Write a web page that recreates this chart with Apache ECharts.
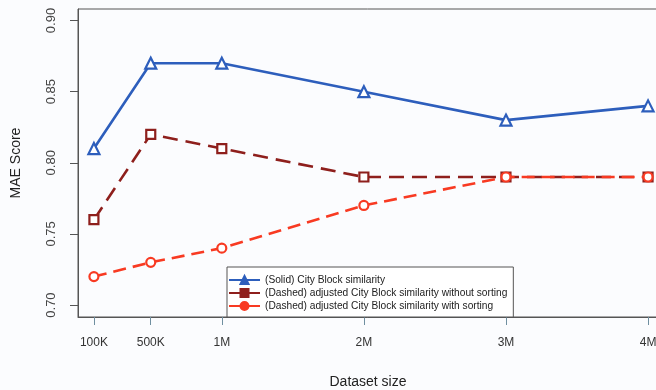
<!DOCTYPE html>
<html><head><meta charset="utf-8">
<script src="https://cdn.jsdelivr.net/npm/echarts@6/dist/echarts.min.js"></script>
<style>html,body{margin:0;padding:0;background:#fbfcfe}#c{width:656px;height:390px}</style>
</head><body><div id="c"></div>
<script>
const sizes = [100000, 500000, 1000000, 2000000, 3000000, 4000000];
const tickLabels = ['100K', '500K', '1M', '2M', '3M', '4M'];
const yTicks = [0.70, 0.75, 0.80, 0.85, 0.90];
const solidCity = [0.81, 0.87, 0.87, 0.85, 0.83, 0.84];
const adjNoSort = [0.76, 0.82, 0.81, 0.79, 0.79, 0.79];
const adjSort = [0.72, 0.73, 0.74, 0.77, 0.79, 0.79];
const names = ['(Solid) City Block similarity',
  '(Dashed) adjusted City Block similarity without sorting',
  '(Dashed) adjusted City Block similarity with sorting'];
const cBlue = '#2d5ebc', cDark = '#8e1f1c', cRed = '#f83a22';
const font = 'Liberation Sans, Arial, sans-serif';
const chart = echarts.init(document.getElementById('c'));
const lbl = {};
sizes.forEach((s, i) => lbl[s] = tickLabels[i]);
function ser(name, data, color, symbol, size, dash, z) {
  return {
    name, type: 'line', z,
    data: sizes.map((s, i) => [s, data[i]]),
    symbol, symbolSize: size, showSymbol: true,
    lineStyle: { color, width: 2.6, type: dash },
    itemStyle: { color: '#ffffff', borderColor: color, borderWidth: 2.2 },
    emphasis: { disabled: true }, animation: false
  };
}
chart.setOption({
  backgroundColor: '#fbfcfe',
  animation: false,
  grid: { left: 78, right: -2, top: 9, bottom: 73, show: true, borderColor: '#555', borderWidth: 1,
    backgroundColor: 'transparent', containLabel: false, outerBoundsMode: 'none' },
  xAxis: {
    type: 'value', min: -12000, max: 4070000,
    name: 'Dataset size', nameLocation: 'middle', nameGap: 58,
    nameTextStyle: { fontFamily: font, fontSize: 14, color: '#222' },
    splitLine: { show: false },
    axisLine: { show: true, onZero: false, lineStyle: { color: '#555' } },
    axisTick: { show: true, length: 8, customValues: sizes, lineStyle: { color: '#6f8fa0' } },
    axisLabel: { customValues: sizes, formatter: v => lbl[v] || '', fontFamily: font, fontSize: 12, color: '#333', margin: 20, hideOverlap: false }
  },
  yAxis: {
    type: 'value', min: 0.6916, max: 0.9081,
    name: 'MAE Score', nameLocation: 'middle', nameGap: 55, nameRotate: 90,
    nameTextStyle: { fontFamily: font, fontSize: 14, color: '#222' },
    splitLine: { show: false },
    axisLine: { show: true, onZero: false, lineStyle: { color: '#555' } },
    axisTick: { show: true, length: 8, customValues: yTicks, lineStyle: { color: '#555' } },
    axisLabel: { customValues: yTicks, formatter: v => v.toFixed(2), rotate: 90, align: 'center', verticalAlign: 'bottom',
      fontFamily: font, fontSize: 13, color: '#444', margin: 20 }
  },
  legend: {
    orient: 'vertical', left: 227, top: 267, width: 286,
    padding: [8, 6, 6, 1], itemGap: 3, itemWidth: 31, itemHeight: 10,
    backgroundColor: '#ffffff', borderColor: '#555', borderWidth: 1, borderRadius: 0,
    textStyle: { fontFamily: font, fontSize: 10.2, color: '#222' },
    data: [
      { name: names[0], itemStyle: { color: cBlue, borderColor: cBlue }, lineStyle: { type: 'solid' } },
      { name: names[1], itemStyle: { color: cDark, borderColor: cDark }, lineStyle: { type: 'solid' } },
      { name: names[2], itemStyle: { color: cRed, borderColor: cRed }, lineStyle: { type: 'solid' } }
    ]
  },
  series: [
    ser(names[0], solidCity, cBlue, 'triangle', 11, 'solid', 3),
    ser(names[1], adjNoSort, cDark, 'rect', 9, [15, 8], 2),
    ser(names[2], adjSort, cRed, 'circle', 9, [13, 7], 4)
  ]
});
</script></body></html>
